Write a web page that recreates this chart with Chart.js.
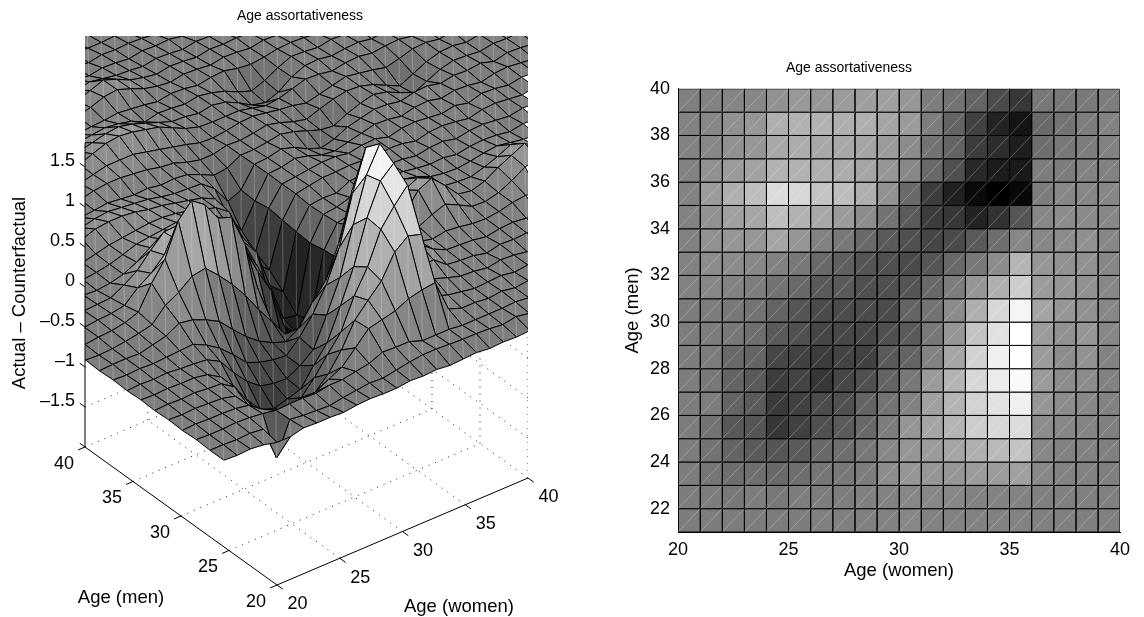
<!DOCTYPE html>
<html><head><meta charset="utf-8">
<style>html,body{margin:0;padding:0;background:#fff}canvas{position:absolute;top:0}</style>
<script src="https://cdn.jsdelivr.net/npm/chart.js@4"></script>
</head><body>
<canvas id="left" width="572" height="617" style="left:0"></canvas>
<canvas id="right" width="572" height="617" style="left:572px"></canvas>
<script>
const chartTitle='Age assortativeness', menTitle='Age (men)', womenTitle='Age (women)', zTitle='Actual \u2013 Counterfactual';
const womenTicks=[20,25,30,35,40];
const menTicks3d=[20,25,30,35,40];
const menTicks2d=[22,24,26,28,30,32,34,36,38,40];
const zTicks=[-1.5,-1,-0.5,0,0.5,1,1.5];
const zTickText=['\u20131.5','\u20131','\u20130.5','0','0.5','1','1.5'];

// right panel: z x 100, men 39 -> 21 (top to bottom), women 20 -> 39
const heatZ=[
[0,2,6,9,21,30,28,34,38,40,28,-4,-16,-35,-66,-91,-10,-10,-8,-4],
[2,9,21,28,59,62,62,59,59,46,34,-4,-35,-79,-116,-135,-29,-16,-4,2],
[2,9,21,28,50,55,50,50,46,34,15,-16,-35,-85,-104,-122,-22,-10,-4,2],
[2,21,34,42,62,62,59,55,46,28,9,-29,-60,-110,-125,-129,-4,-4,2,2],
[2,34,59,78,115,109,84,78,59,21,-29,-85,-120,-148,-160,-150,-4,9,9,9],
[2,21,40,46,78,62,50,34,15,-16,-48,-85,-91,-116,-98,-54,9,15,12,9],
[2,21,28,28,46,28,2,-10,-29,-48,-60,-72,-66,-48,-22,9,9,15,21,9],
[2,15,15,9,2,-10,-29,-41,-54,-60,-66,-54,-29,-10,15,65,28,21,21,9],
[2,9,2,-4,-16,-29,-48,-48,-60,-60,-54,-29,-4,28,59,96,34,28,21,9],
[-4,-4,-10,-16,-35,-54,-66,-66,-66,-66,-35,-16,15,59,109,146,46,28,21,9],
[-4,-4,-10,-22,-48,-60,-72,-70,-72,-60,-48,-10,28,84,121,159,34,21,28,9],
[-4,-4,-29,-35,-72,-79,-85,-75,-79,-48,-35,2,46,102,140,159,34,15,21,2],
[-4,-10,-35,-48,-85,-75,-91,-72,-60,-35,-10,34,65,109,134,152,34,15,15,2],
[-4,-4,-35,-48,-88,-79,-66,-60,-35,-16,2,40,65,102,121,140,28,15,9,2],
[-4,-16,-50,-54,-91,-79,-60,-48,-29,-4,28,46,65,96,109,115,15,9,5,0],
[-4,-16,-35,-48,-54,-48,-29,-22,-10,9,28,34,46,59,71,84,9,2,2,0],
[-4,-12,-22,-22,-29,-22,-12,-10,-4,15,28,28,28,34,34,40,9,2,2,0],
[-4,-4,-10,-4,-10,-4,-4,-4,0,2,9,9,9,2,2,2,0,0,0,0],
[-4,-4,-4,-4,-4,-4,0,0,0,2,9,2,2,2,2,2,0,0,0,0]];

// left panel: its own mesh, read row by row, z x 100. Row j sits at men = meshMen0 + j*meshMenStep,
// column i at women = meshWomen0 + i*meshWomenStep; each row starts at column surfaceFirst[j]
const meshWomen0=15, meshWomenStep=1.06, meshMen0=19, meshMenStep=1.44;
const surfaceFirst=[0,0,0,0,0,0,0,0,0,0,0,0,1,2,3,4,5,6,7,8,9,10,11,12,13,14,15,16,17,18,19,20,21,22];
const surfaceZ=[
[-2,-3,-2,-4,-8,-8,-4,-5,-5,-6,-4,-3,-4,-4,-2,-3,-2,-4,-3,-2,-4,-3,-4,-3,-4],
[-2,-2,-3,-2,-4,-47,-6,-8,-9,-10,-7,-5,-3,-4,-1,2,4,4,3,2,2,1,-1,2,-1,1],
[-1,-2,-2,-1,-2,-4,-7,-6,-6,-7,-4,-4,-1,2,9,8,8,2,2,2,0,0,0,0,1,-1,1],
[-2,-1,-2,-2,-3,-6,-18,-28,-33,-34,-25,-16,-8,9,26,30,34,42,46,48,8,2,2,0,2,-1,1,2],
[-1,-2,-1,-2,-3,-7,-26,-49,-68,-77,-65,-45,-29,-6,24,42,59,88,101,96,12,6,3,0,1,2,-1,1,2],
[-2,-1,-2,-1,-3,-4,-15,-40,-67,-82,-74,-64,-46,-24,-3,35,64,104,126,145,26,14,8,3,2,-1,2,1,-2,1],
[-1,-2,-1,-2,-2,-5,-15,-35,-58,-77,-83,-78,-73,-50,-29,10,52,106,145,160,28,16,18,5,3,2,-2,2,1,2,-1],
[-2,-1,-2,-1,-3,-4,-6,-15,-36,-54,-67,-71,-72,-63,-50,-14,26,85,140,172,30,22,25,12,4,3,2,-1,2,3,1,-2],
[-1,-2,-1,-2,-1,0,1,-7,-18,-33,-50,-57,-61,-63,-47,-25,4,44,105,155,36,26,19,9,5,8,6,3,2,4,8,10,6],
[-2,-1,-1,-2,2,6,15,12,5,-4,-21,-37,-50,-59,-65,-55,-30,-10,30,89,27,20,18,9,8,16,22,14,5,4,8,16,26,30],
[-1,-2,-1,1,4,8,25,34,47,50,34,16,-5,-30,-52,-75,-76,-75,-55,-20,10,15,16,9,12,34,42,26,8,5,10,20,28,36,24],
[-2,-1,1,2,5,11,40,63,104,122,110,86,80,40,-24,-80,-113,-143,-149,-115,-28,5,9,9,10,22,30,22,6,4,3,8,14,22,14,6],
[-1,1,3,4,7,22,33,49,60,58,55,48,33,14,-21,-52,-104,-121,-110,-30,-3,0,2,6,12,16,12,5,2,1,3,6,8,5,2,1],
[1,2,3,4,13,24,42,58,59,57,55,46,31,-3,-34,-82,-114,-117,-34,-5,-3,2,4,6,8,6,3,1,2,-1,2,3,2,-1,2,1],
[1,2,1,3,7,15,26,29,32,37,40,30,-1,-16,-36,-85,-100,-32,-6,-4,-5,3,4,5,3,2,-1,2,3,-1,2,3,1,-1,2,1],
[1,2,4,7,12,18,20,22,24,22,14,2,-10,-30,-70,-85,-30,-4,-1,2,2,3,2,-1,3,2,-2,2,3,1,-2,2,3,1,-1,2],
[2,4,8,12,14,16,18,18,16,12,6,2,-10,-50,-75,-27,-4,-2,0,2,2,-1,2,3,-2,2,3,1,-1,2,-2,3,2,-1,2,1,2],
[8,14,20,22,22,20,16,14,10,6,2,-6,-35,-60,-30,-3,-2,2,-2,-8,-10,-6,-2,2,1,-2,2,3,-1,2,1,-2,2,3,1,-1,2,1],
[6,10,14,16,14,12,10,6,3,2,1,-12,-35,-28,-3,-2,2,-3,-12,-18,-14,-6,-2,2,1,-2,2,3,-1,2,1,3,-2,2,1,-1,2],
[2,4,6,8,6,4,5,2,3,1,-6,-14,-12,-3,-3,-1,2,-2,-8,-14,-16,-8,-2,2,-2,-10,-18,-10,-2,2,1,-1,2,1,2,-1],
[3,8,12,14,14,12,10,6,4,-2,-6,-6,-2,-3,-1,2,-2,-8,-12,-6,-1,2,1,-4,-12,-20,-12,-4,1,2,-1,2,1,-1],
[5,10,14,18,18,18,14,10,6,2,-3,-4,-2,1,2,-1,-4,-6,-10,-6,-2,2,-1,-4,-8,-4,1,2,-1,2,1],
[8,16,22,28,30,28,24,20,12,4,-1,-2,-2,-2,-6,-10,-8,-3,2,1,-2,1,2,-1,1,2,-1,2,1],
[8,14,18,22,24,20,14,8,2,1,-2,1,-2,-10,-20,-24,-18,-6,1,2,-1,1,2,-1,1,2],
[4,8,10,12,10,6,-2,2,1,-1,2,-1,-6,-14,-20,-14,-5,2,1,-1,2,1,2,-1],
[2,1,3,4,6,4,2,-1,2,1,-2,1,2,-2,-4,-2,1,2,1,-1,2],
[2,6,10,16,18,12,5,1,-1,2,1,-1,2,1,-1,2,1,-1,2],
[3,8,14,20,14,6,2,-1,2,1,-1,2,1,2,1,-1],
[2,5,8,5,2,1,-1,2,1,-1,2,1,-1,2],
[1,2,-1,2,1,-1,2,1,2,-1,1,2],
[2,1,-1,2,1,2,1,-1,2,1],
[1,2,1,1,2,-1,1],
[1,-1,2,1,2,1],
[2,1,-1]];

const view={x0:277,y0:425,wx:12.55,wy:-5.35,mx:-9.6,my:-6.9,zs:80,zFloor:-2,zTop:1.8,farRow:14,farFlatten:0.08};
const FACE_LINE='#000', DIAG='rgba(255,255,255,0.33)', GRID_DOT='#222';
const FONT='"Liberation Sans"';
const TICK_SIZE=18, LABEL_SIZE=18.5, TITLE_SIZE=14;
Chart.defaults.font.family=FONT;
Chart.defaults.font.size=14;
Chart.defaults.color='#000';

const project=(w,m,z)=>({x:view.x0+(w-20)*view.wx+(m-20)*view.mx,y:view.y0+(w-20)*view.wy+(m-20)*view.my-z*view.zs});
const gray=z=>{const g=Math.max(0,Math.min(255,Math.round(128+z*80)));return `rgb(${g},${g},${g})`;};
const meshZ=(i,j)=>{const row=surfaceZ[j];if(!row)return undefined;const v=row[i-surfaceFirst[j]];return v===undefined?undefined:v/100;};
const meshPoint=(i,j,z)=>{const p=project(meshWomen0+i*meshWomenStep,meshMen0+j*meshMenStep,z);if(j>view.farRow)p.y+=view.farFlatten*(j-view.farRow)*(j-view.farRow);return p;};

function polyline(points,color,extra){return Object.assign({data:points,showLine:true,pointRadius:0,borderColor:color,borderWidth:1,fill:false,clip:false},extra||{});}

const leftSets=[];
const axisLine=(a,b)=>polyline([a,b],'#000',{borderWidth:1});
leftSets.push(axisLine(project(20,40,view.zFloor),project(20,40,view.zTop)));
zTicks.concat([view.zFloor]).forEach(z=>leftSets.push(axisLine(project(20,40,z),project(20,40.55,z))));
leftSets.push(axisLine(project(20,20,view.zFloor),project(20,40,view.zFloor)));
leftSets.push(axisLine(project(20,20,view.zFloor),project(40,20,view.zFloor)));
menTicks3d.forEach(m=>leftSets.push(axisLine(project(20,m,view.zFloor),project(19.45,m,view.zFloor))));
womenTicks.forEach(w=>leftSets.push(axisLine(project(w,20,view.zFloor),project(w,19.4,view.zFloor))));

// surface: front cells first, because the first dataset is painted last
surfaceZ.forEach((row,j)=>{
  row.forEach((v,k)=>{
    const i=surfaceFirst[j]+k;
    const a=meshZ(i,j),b=meshZ(i+1,j),c=meshZ(i+1,j+1),d=meshZ(i,j+1);
    if(a===undefined||b===undefined||c===undefined||d===undefined)return;
    const p1=meshPoint(i,j,a),p2=meshPoint(i+1,j,b),p3=meshPoint(i+1,j+1,c),p4=meshPoint(i,j+1,d);
    leftSets.push({data:[p1,p3],showLine:true,pointRadius:0,borderColor:DIAG,borderWidth:0.7,fill:false});
    leftSets.push({data:[p1,p2,p3,p4,p1],showLine:true,pointRadius:0,borderColor:FACE_LINE,borderWidth:1,backgroundColor:gray(a),fill:'shape'});
  });
});
// dotted box grid behind the surface
const dotted=(a,b)=>({data:[a,b],showLine:true,pointRadius:0,borderColor:GRID_DOT,borderDash:[1,6],borderWidth:1,fill:false});
[25,30,35,40].forEach(w=>leftSets.push(dotted(project(w,20,view.zFloor),project(w,40,view.zFloor))));
[25,30,35,40].forEach(m=>leftSets.push(dotted(project(20,m,view.zFloor),project(40,m,view.zFloor))));
[20,25,30,35,40].forEach(m=>leftSets.push(dotted(project(40,m,view.zFloor),project(40,m,view.zTop))));
[25,30,35].forEach(w=>leftSets.push(dotted(project(w,40,view.zFloor),project(w,40,view.zTop))));
zTicks.forEach(z=>{leftSets.push(dotted(project(40,20,z),project(40,40,z)));leftSets.push(dotted(project(20,40,z),project(40,40,z)));});

const labels3d={id:'labels3d',afterDraw(chart){
  const ctx=chart.ctx;ctx.save();ctx.fillStyle='#000';ctx.textBaseline='middle';ctx.textAlign='center';
  ctx.font=TITLE_SIZE+'px '+FONT;
  ctx.fillText(chartTitle,300,16);
  ctx.font=TICK_SIZE+'px '+FONT;
  menTicks3d.forEach(m=>{const p=project(20,m,view.zFloor);ctx.fillText(String(m),p.x-21,p.y+17);});
  womenTicks.forEach(w=>{const p=project(w,20,view.zFloor);ctx.fillText(String(w),p.x+20.5,p.y+19.5);});
  ctx.textAlign='right';
  zTicks.forEach((z,i)=>{const p=project(20,40,z);ctx.fillText(zTickText[i],75,p.y-6);});
  ctx.textAlign='center';
  ctx.font=LABEL_SIZE+'px '+FONT;
  ctx.fillText(menTitle,121,598);
  ctx.fillText(womenTitle,459,607);
  ctx.translate(20,293);ctx.rotate(-Math.PI/2);ctx.fillText(zTitle,0,0);
  ctx.restore();
}};

new Chart(document.getElementById('left'),{type:'scatter',data:{datasets:leftSets},plugins:[labels3d],options:{
  responsive:false,animation:false,events:[],
  layout:{padding:{left:85,right:44,top:36,bottom:0}},
  plugins:{legend:{display:false},tooltip:{enabled:false},title:{display:false},filler:{propagate:false}},
  scales:{x:{type:'linear',display:false,min:85,max:528},y:{type:'linear',display:false,min:36,max:617,reverse:true}}
}});

// right panel
const rightSets=[];
const diagPts=[];
heatZ.forEach((row,i)=>{const m=39-i;row.forEach((v,j)=>{const w=20+j;diagPts.push({x:w,y:m},{x:w+1,y:m+1},{x:NaN,y:NaN});});});
rightSets.push({data:diagPts,showLine:true,spanGaps:false,pointRadius:0,borderColor:DIAG,borderWidth:0.8,fill:false});
heatZ.forEach((row,i)=>{const m=39-i;row.forEach((v,j)=>{const w=20+j;
  rightSets.push({data:[{x:w,y:m},{x:w+1,y:m},{x:w+1,y:m+1},{x:w,y:m+1},{x:w,y:m}],showLine:true,pointRadius:0,borderColor:'#000',borderWidth:1,backgroundColor:gray(v/100),fill:'shape'});
});});

new Chart(document.getElementById('right'),{type:'scatter',data:{datasets:rightSets},options:{
  responsive:false,animation:false,events:[],
  layout:{padding:{left:6,right:24,top:0,bottom:0}},
  plugins:{legend:{display:false},tooltip:{enabled:false},filler:{propagate:false},
    title:{display:true,text:chartTitle,color:'#000',font:{size:TITLE_SIZE,weight:'normal'},padding:{top:60,bottom:12}}},
  scales:{
    x:{type:'linear',min:20,max:40,grid:{display:false,drawTicks:false},border:{display:true,color:'#000'},
      afterBuildTicks(s){s.ticks=womenTicks.map(v=>({value:v}));},
      afterFit(s){s.height=85;},
      ticks:{padding:7,maxRotation:0,autoSkip:false,color:'#000',font:{size:TICK_SIZE}},
      title:{display:true,text:womenTitle,color:'#000',font:{size:LABEL_SIZE},padding:{top:0,bottom:34.9}}},
    y:{type:'linear',min:21,max:40,grid:{display:false,drawTicks:false},border:{display:true,color:'#000'},
      afterBuildTicks(s){s.ticks=menTicks2d.map(v=>({value:v}));},
      afterFit(s){s.width=100;},
      ticks:{padding:8,autoSkip:false,color:'#000',font:{size:TICK_SIZE}},
      title:{display:true,text:menTitle,color:'#000',font:{size:LABEL_SIZE},padding:{top:43.9,bottom:0}}}
  }
}});
</script>
</body></html>
